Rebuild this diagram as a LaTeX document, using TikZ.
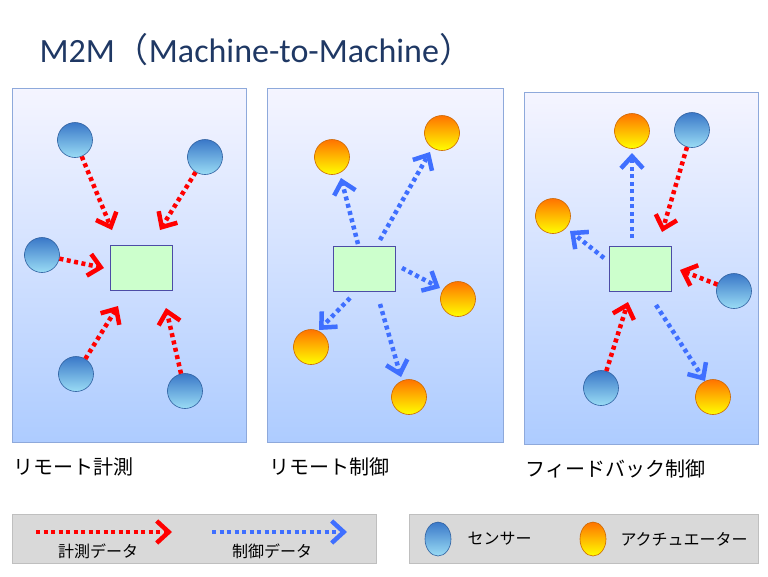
\documentclass[tikz,border=0pt]{standalone}
\usepackage{fontspec}
\setmainfont{Carlito}
\newfontfamily\cjk{Noto Sans CJK JP}
\usetikzlibrary{arrows.meta,shapes.geometric}
\definecolor{panelb}{HTML}{8EA9DB}
\definecolor{ttl}{HTML}{1F3864}
\definecolor{sb}{HTML}{3A78C8}
\definecolor{sl}{HTML}{9ADCF5}
\definecolor{bl}{HTML}{3F6FFF}
\tikzset{
 x=1pt,y=-1pt,
 panel/.style={draw=panelb,top color=blue!4!white,bottom color=blue!30!cyan!20!white!85!blue,line width=0.7pt},
 box/.style={draw=blue!50!black!70,fill=green!20,line width=0.8pt,minimum width=62pt,minimum height=45pt,inner sep=0},
 sens/.style={circle,draw=sb!80!black,top color=sb,bottom color=sl,minimum width=35pt,inner sep=0,line width=0.6pt},
 act/.style={circle,draw=orange!80!black,top color=orange!90!red,bottom color=yellow,minimum width=35pt,inner sep=0,line width=0.6pt},
 arr/.style={line width=4.5pt,dash pattern=on 4pt off 3.5pt,-{Straight Barb[length=12pt,width=22pt,line width=4.5pt]}},
 ra/.style={arr,red},
 ba/.style={arr,bl},
 lbl/.style={font=\cjk\fontsize{20}{20}\selectfont,anchor=west},
 lt/.style={font=\cjk\fontsize{16}{16}\selectfont},
 leg/.style={fill=black!15,draw=black!25,line width=0.8pt}
}
\begin{document}
\begin{tikzpicture}
\useasboundingbox (0,0) rectangle (768,576);
\node[anchor=west,text=ttl,font=\fontsize{34}{34}\selectfont] (title) at (36,50) {M2M{\cjk（}Machine-to-Machine{\cjk）}};
\draw[panel] (12,88) rectangle (246,442);
\draw[panel] (267,88) rectangle (503,442);
\draw[panel] (524,92) rectangle (758,444);
% panel 1
\node[box] (b1) at (141,268) {};
\node[sens] (s11) at (75,140) {};
\node[sens] (s12) at (205,157) {};
\node[sens] (s13) at (42,255) {};
\node[sens] (s14) at (76,374) {};
\node[sens] (s15) at (185,391) {};
\coordinate (t11) at (112,230); \coordinate (t12) at (160,230);
\coordinate (t13) at (104,268); \coordinate (t14) at (118,306); \coordinate (t15) at (166,308);
\draw[ra] (s11) -- (t11); \draw[ra] (s12) -- (t12); \draw[ra] (s13) -- (t13);
\draw[ra] (s14) -- (t14); \draw[ra] (s15) -- (t15);
% panel 2
\node[box] (b2) at (364,269) {};
\node[act] (a21) at (332,157) {};
\node[act] (a22) at (442,133) {};
\node[act] (a23) at (458,299) {};
\node[act] (a24) at (311,347) {};
\node[act] (a25) at (409,397) {};
\coordinate (f21) at (358,244); \coordinate (f22) at (380,240);
\coordinate (f23) at (402,268); \coordinate (f24) at (350,298); \coordinate (f25) at (380,304);
\draw[ba] (f21) -- (341,178); \draw[ba] (f22) -- (430,152); \draw[ba] (f23) -- (440,288);
\draw[ba] (f24) -- (319,330); \draw[ba] (f25) -- (401,377);
% panel 3
\node[box] (b3) at (640,269) {};
\node[act] (a31) at (632,131) {};
\node[act] (a32) at (553,216) {};
\node[act] (a33) at (713,397) {};
\node[sens] (s31) at (692,130) {};
\node[sens] (s32) at (734,291) {};
\node[sens] (s33) at (601,388) {};
\coordinate (f31) at (632,238); \coordinate (f32) at (604,258); \coordinate (f33) at (656,305);
\draw[ba] (f31) -- (632,153); \draw[ba] (f32) -- (570,231); \draw[ba] (f33) -- (705,381);
\draw[ra] (s31) -- (662,232); \draw[ra] (s32) -- (680,270); \draw[ra] (s33) -- (628,302);
% captions
\node[lbl] (c1) at (10,467) {リモート計測};
\node[lbl] (c2) at (266,467) {リモート制御};
\node[lbl] (c3) at (522,469) {フィードバック制御};
% legend
\draw[leg] (12,514) rectangle (376,563);
\draw[leg] (409,514) rectangle (758,563);
\coordinate (l1a) at (36,532); \coordinate (l1b) at (172,532);
\coordinate (l2a) at (212,532); \coordinate (l2b) at (347,532);
\draw[ra,line width=3.5pt] (l1a) -- (l1b);
\draw[ba,line width=3.5pt] (l2a) -- (l2b);
\node[lt] (lt1) at (98,551) {計測データ};
\node[lt] (lt2) at (272,551) {制御データ};
\node[sens,ellipse,minimum width=26pt,minimum height=34pt] (ls) at (438,539) {};
\node[lt,anchor=west] (lst) at (464,539) {センサー};
\node[act,ellipse,minimum width=26pt,minimum height=34pt] (la) at (593,539) {};
\node[lt,anchor=west] (lat) at (617,539) {アクチュエーター};
\end{tikzpicture}
\end{document}
